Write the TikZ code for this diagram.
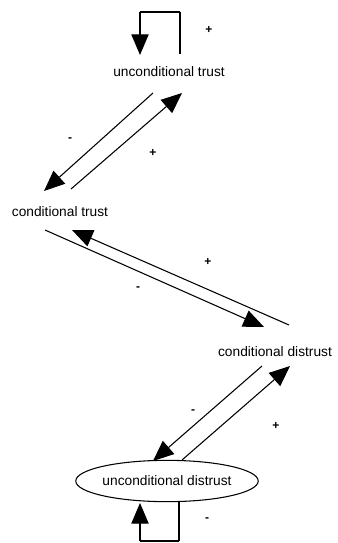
\documentclass[tikz,border=0pt]{standalone}
\usepackage{fontspec}
\setmainfont{Liberation Sans}
\usetikzlibrary{shapes.geometric, arrows.meta}
\tikzstyle{stage} = [font=\fontsize{10.3}{12}\selectfont, inner sep=0pt]
\tikzstyle{oval} = [ellipse, draw=black, line width=0.8pt, minimum width=123pt, minimum height=31pt, inner sep=0pt, font=\fontsize{10.3}{12}\selectfont]
\tikzstyle{sign} = [font=\bfseries\fontsize{9}{10}\selectfont, inner sep=0pt]
\tikzstyle{arrow} = [line width=0.8pt, -{Triangle[length=15.5pt,width=13pt]}]
\tikzstyle{link} = [line width=0.8pt]
\tikzstyle{loopside} = [line width=1.6pt]

\begin{document}
\begin{tikzpicture}[x=0.75pt, y=-0.75pt]
    \useasboundingbox (0,0) rectangle (338,543);

    \node (utrust) [stage] at (169,72) {unconditional trust};
    \node (ctrust) [stage] at (60,212) {conditional trust};
    \node (cdist) [stage] at (275,352) {conditional distrust};
    \node (udist) [oval] at (167,481) {unconditional distrust};

    % self loop on top
    \coordinate (ut1) at (140,55);
    \coordinate (ut2) at (140,12);
    \coordinate (ut3) at (180,12);
    \coordinate (ut4) at (180,54);
    \draw [link] (ut2) -- (ut3);
    \draw [loopside] (ut3) -- (ut4);
    \draw [arrow] (ut2) -- (ut1);
    \node (p1) [sign] at (209,30) {+};

    % unconditional trust <-> conditional trust
    \coordinate (a1) at (153,93);
    \coordinate (a2) at (44,191);
    \coordinate (a3) at (71,189);
    \coordinate (a4) at (182,93);
    \draw [arrow] (a1) -- (a2);
    \draw [arrow] (a3) -- (a4);
    \node (m1) [sign] at (70,140) {-};
    \node (p2) [sign] at (153,153) {+};

    % conditional trust <-> conditional distrust
    \coordinate (b1) at (45,230);
    \coordinate (b2) at (264,327);
    \coordinate (b3) at (289,325);
    \coordinate (b4) at (72,230);
    \draw [arrow] (b1) -- (b2);
    \draw [arrow] (b3) -- (b4);
    \node (p3) [sign] at (208,262) {+};
    \node (m2) [sign] at (138,289) {-};

    % conditional distrust <-> unconditional distrust
    \coordinate (c1) at (262,366);
    \coordinate (c2) at (153,461);
    \coordinate (c3) at (182,460);
    \coordinate (c4) at (290,366);
    \draw [arrow] (c1) -- (c2);
    \draw [arrow] (c3) -- (c4);
    \node (m3) [sign] at (193,412) {-};
    \node (p4) [sign] at (276,426) {+};

    % self loop at the bottom
    \coordinate (ud1) at (179,502);
    \coordinate (ud2) at (179,541);
    \coordinate (ud3) at (140,541);
    \coordinate (ud4) at (140,503);
    \draw [loopside] (ud1) -- (ud2);
    \draw [link] (ud2) -- (ud3);
    \draw [arrow] (ud3) -- (ud4);
    \node (m4) [sign] at (207,520) {-};
\end{tikzpicture}
\end{document}
